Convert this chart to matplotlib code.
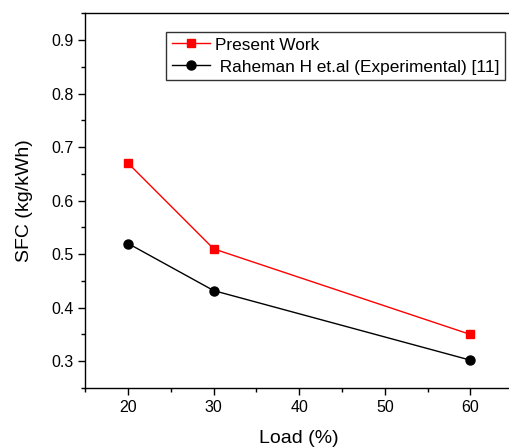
import matplotlib.pyplot as plt
from matplotlib.ticker import MultipleLocator

plt.rcParams['font.family'] = ['Liberation Sans', 'DejaVu Sans']

# data
load = [20, 30, 60]
sfc_present = [0.67, 0.51, 0.35]
sfc_raheman = [0.52, 0.432, 0.302]

fig = plt.figure(figsize=(5.10, 4.47), dpi=100)
ax = fig.add_axes([0.1673, 0.132, 0.839, 0.838])

ax.plot(load, sfc_present, color='red', lw=1.0, marker='s', ms=6,
        label='Present Work')
ax.plot(load, sfc_raheman, color='black', lw=1.0, marker='o', ms=6.5,
        label=' Raheman H et.al (Experimental) [11]')

ax.set_xlim(15, 65)
ax.set_ylim(0.25, 0.95)
ax.xaxis.set_major_locator(MultipleLocator(10))
ax.xaxis.set_minor_locator(MultipleLocator(5))
ax.yaxis.set_major_locator(MultipleLocator(0.1))
ax.yaxis.set_minor_locator(MultipleLocator(0.05))
ax.tick_params(which='major', direction='out', length=5, width=1, labelsize=11.5)
ax.tick_params(which='minor', direction='out', length=3, width=1)
ax.spines['right'].set_visible(False)
for s in ['left', 'bottom', 'top']:
    ax.spines[s].set_linewidth(1.0)

ax.set_xlabel('Load (%)', fontsize=14, labelpad=11)
ax.set_ylabel('SFC (kg/kWh)', fontsize=14, labelpad=13)

leg = ax.legend(loc='upper left', bbox_to_anchor=(166 / 510, 1 - 31.7 / 447),
                bbox_transform=fig.transFigure, fontsize=12.45, frameon=True,
                fancybox=False, edgecolor='black', borderaxespad=0,
                handlelength=2.2, handletextpad=0.3, borderpad=0.33,
                labelspacing=0.4)
leg.get_frame().set_linewidth(1.0)

fig.savefig('out.png', dpi=100)
